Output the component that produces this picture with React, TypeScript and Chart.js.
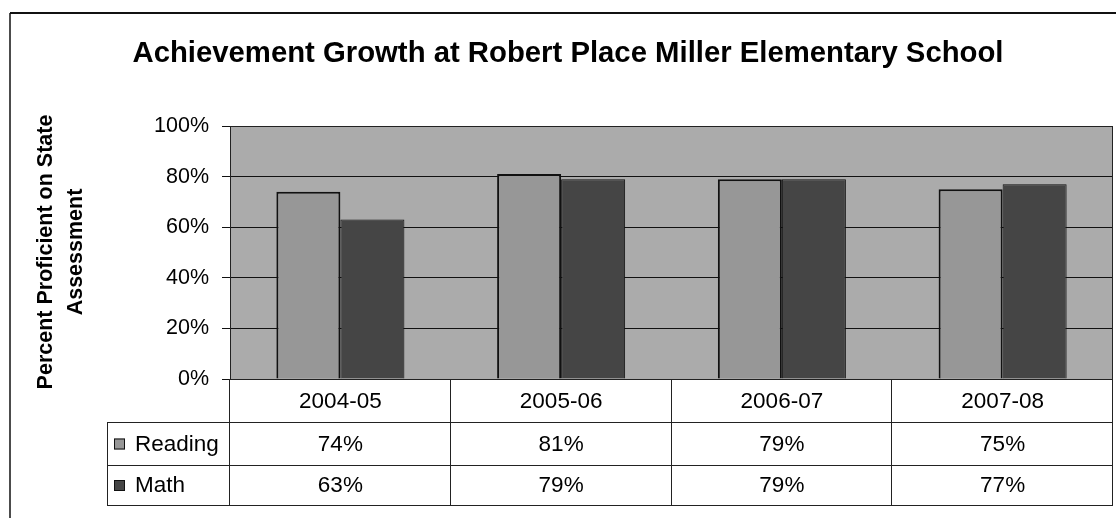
import React, { useEffect, useRef } from 'react';
import { Chart, registerables } from 'chart.js';

Chart.register(...registerables);

const TITLE = 'Achievement Growth at Robert Place Miller Elementary School';
const Y_TITLE_LINES = ['Percent Proficient on State', 'Assessment'];
const CATEGORIES = ['2004-05', '2005-06', '2006-07', '2007-08'];
const SERIES_NAMES = ['Reading', 'Math'];
const READING = [74, 81, 79, 75];
const MATH = [63, 79, 79, 77];
const Y_TICKS = [0, 20, 40, 60, 80, 100];

const FONT = '"Liberation Sans", Arial, sans-serif';
const PLOT_BG = '#ababab';
const READING_COLOR = '#979797';
const MATH_COLOR = '#454545';
const SERIES_COLORS = [READING_COLOR, MATH_COLOR];
const SERIES_VALUES = [READING, MATH];

const decorPlugin = {
  id: 'decor',
  beforeDraw(chart: any) {
    const { ctx, chartArea: a, width, height } = chart;
    ctx.save();
    ctx.fillStyle = '#ffffff';
    ctx.fillRect(0, 0, width, height);
    ctx.fillStyle = PLOT_BG;
    ctx.fillRect(a.left, a.top, a.right - a.left, a.bottom - a.top);
    // outer frame
    ctx.strokeStyle = '#111';
    ctx.lineWidth = 2;
    ctx.beginPath();
    ctx.moveTo(10, 13);
    ctx.lineTo(width, 13);
    ctx.stroke();
    ctx.lineWidth = 1.5;
    ctx.beginPath();
    ctx.moveTo(10, 13);
    ctx.lineTo(10, height);
    ctx.stroke();
    ctx.restore();
  },
  afterDraw(chart: any) {
    const { ctx, chartArea: a } = chart;
    ctx.save();
    // Title
    ctx.fillStyle = '#000';
    ctx.font = `bold 29.3px ${FONT}`;
    ctx.textAlign = 'center';
    ctx.textBaseline = 'alphabetic';
    ctx.fillText(TITLE, 568, 62);

    // Y axis title (rotated)
    ctx.save();
    ctx.translate(0, 252);
    ctx.rotate(-Math.PI / 2);
    ctx.font = `bold 21.5px ${FONT}`;
    ctx.textAlign = 'center';
    ctx.textBaseline = 'middle';
    ctx.fillText(Y_TITLE_LINES[0], 0, 46);
    ctx.fillText(Y_TITLE_LINES[1], 0, 76);
    ctx.restore();

    // plot frame
    ctx.strokeStyle = '#222';
    ctx.lineWidth = 1;
    ctx.strokeRect(a.left + 0.5, a.top + 0.5, a.right - a.left - 1, a.bottom - a.top);

    // data table
    const n = CATEGORIES.length;
    const cw = (a.right - a.left) / n;
    const xs = chart.scales.x;
    const r0 = a.bottom;
    const r1 = r0 + 43;
    const r2 = r1 + 43;
    const r3 = r2 + 40;
    const legendLeft = a.left - 123;

    ctx.strokeStyle = '#222';
    ctx.lineWidth = 1;
    ctx.beginPath();
    [r1, r2, r3].forEach((y) => {
      ctx.moveTo(legendLeft, y + 0.5);
      ctx.lineTo(a.right, y + 0.5);
    });
    ctx.moveTo(legendLeft + 0.5, r1);
    ctx.lineTo(legendLeft + 0.5, r3);
    for (let i = 0; i <= n; i++) {
      const x = Math.round(a.left + i * cw) - 0.5;
      ctx.moveTo(x, r0);
      ctx.lineTo(x, r3);
    }
    ctx.stroke();

    ctx.fillStyle = '#000';
    ctx.font = `22.5px ${FONT}`;
    ctx.textAlign = 'center';
    ctx.textBaseline = 'middle';
    CATEGORIES.forEach((c, i) => {
      const cx = xs.getPixelForValue(i);
      ctx.fillText(c, cx, (r0 + r1) / 2 + 1);
      ctx.fillText(`${READING[i]}%`, cx, (r1 + r2) / 2 + 1);
      ctx.fillText(`${MATH[i]}%`, cx, (r2 + r3) / 2 + 1);
    });

    // legend keys
    const rows = [
      [r1, r2],
      [r2, r3],
    ];
    SERIES_NAMES.forEach((name, k) => {
      const cy = (rows[k][0] + rows[k][1]) / 2;
      ctx.fillStyle = SERIES_COLORS[k];
      ctx.fillRect(legendLeft + 7, cy - 5, 11, 11);
      ctx.strokeStyle = '#111';
      ctx.strokeRect(legendLeft + 7.5, cy - 4.5, 10, 10);
      ctx.fillStyle = '#000';
      ctx.textAlign = 'left';
      ctx.fillText(name, legendLeft + 28, cy + 1);
    });
    ctx.restore();
  },
};

export default function App() {
  const ref = useRef<HTMLCanvasElement | null>(null);
  useEffect(() => {
    document.body.style.margin = '0';
    const canvas = ref.current;
    if (!canvas) return;
    const chart = new Chart(canvas, {
      type: 'bar',
      data: {
        labels: CATEGORIES,
        datasets: SERIES_NAMES.map((name, k) => ({
          label: name,
          data: SERIES_VALUES[k],
          backgroundColor: SERIES_COLORS[k],
          borderColor: '#111',
          borderWidth: k === 0 ? 2 : 1,
          barPercentage: 1,
          categoryPercentage: 0.58,
        })),
      },
      options: {
        animation: false,
        responsive: false,
        layout: { padding: { left: 0, right: 3, top: 126, bottom: 139 } },
        plugins: {
          legend: { display: false },
          title: { display: false },
          tooltip: { enabled: false },
        },
        scales: {
          x: { display: false, type: 'category' },
          y: {
            min: 0,
            max: 100,
            afterBuildTicks: (s: any) => {
              s.ticks = Y_TICKS.map((v) => ({ value: v }));
            },
            afterFit: (s: any) => {
              s.width = 230;
            },
            ticks: {
              callback: (v: any) => `${v}%`,
              color: '#000',
              padding: 13,
              font: { family: FONT, size: 21.5 },
            },
            grid: { color: '#111', lineWidth: 1, tickLength: 8, drawTicks: true },
            border: { display: true, color: '#111', width: 1 },
          },
        },
      },
      plugins: [decorPlugin],
    });
    return () => chart.destroy();
  }, []);
  return <canvas ref={ref} width={1116} height={518} style={{ display: 'block' }} />;
}
